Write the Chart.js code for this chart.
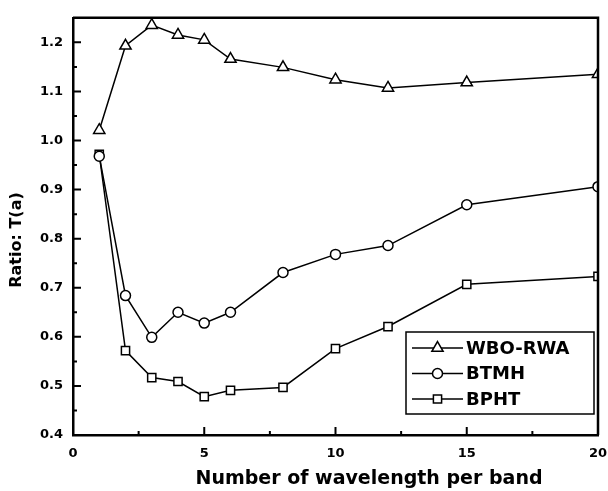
<!DOCTYPE html>
<html>
<head>
<meta charset="utf-8">
<script src="https://cdn.jsdelivr.net/npm/chart.js@4.4.1/dist/chart.umd.min.js"></script>
<style>
  html, body { margin: 0; padding: 0; background: #fff; }
  #wrap { width: 608px; height: 491px; }
</style>
</head>
<body>
<div id="wrap"><canvas id="ratioChart" width="608" height="491"></canvas></div>
<script>
// wavelengths per band and ratio T(a) for each method
const wavelengths = [1, 2, 3, 4, 5, 6, 8, 10, 12, 15, 20];
const wboRwa = [1.021, 1.193, 1.235, 1.215, 1.205, 1.166, 1.149, 1.124, 1.107, 1.118, 1.135];
const btmh   = [0.968, 0.684, 0.599, 0.650, 0.628, 0.650, 0.731, 0.768, 0.786, 0.869, 0.906];
const bpht   = [0.972, 0.572, 0.517, 0.509, 0.478, 0.491, 0.497, 0.576, 0.621, 0.707, 0.723];

const seriesLabels = ["WBO-RWA", "BTMH", "BPHT"];
const xTickValues = [0, 5, 10, 15, 20];
const xMinorValues = [2.5, 7.5, 12.5, 17.5];
const yTickValues = [0.4, 0.5, 0.6, 0.7, 0.8, 0.9, 1.0, 1.1, 1.2];
const yMinorValues = [0.45, 0.55, 0.65, 0.75, 0.85, 0.95, 1.05, 1.15];

const xTitle = "Number of wavelength per band";
const yTitle = "Ratio: T(a)";

const FONT = "'DejaVu Sans', sans-serif";

const toPoints = (ys) => wavelengths.map((x, i) => ({ x, y: ys[i] }));

function series(label, ys, style, radius) {
    return {
        label,
        data: toPoints(ys),
        borderColor: "#000",
        borderWidth: 1.5,
        backgroundColor: "#fff",
        pointStyle: style,
        pointRadius: radius,
        pointBorderWidth: 1.5,
        pointBorderColor: "#000",
        pointBackgroundColor: "#fff",
        tension: 0,
        fill: false,
    };
}

// inward ticks, frame, axis titles and the boxed legend
const framePlugin = {
    id: "frame",
    afterDatasetsDraw(chart) {
        const { ctx, chartArea: a, scales } = chart;
        const xs = scales.x, ys = scales.y;
        ctx.save();
        ctx.strokeStyle = "#000";

        // top and right edges of the frame
        ctx.lineWidth = 2.5;
        ctx.beginPath();
        ctx.moveTo(a.left, a.top);
        ctx.lineTo(a.right, a.top);
        ctx.lineTo(a.right, a.bottom);
        ctx.stroke();

        ctx.lineWidth = 2;
        ctx.beginPath();
        xTickValues.forEach(v => {
            const px = xs.getPixelForValue(v);
            ctx.moveTo(px, a.bottom); ctx.lineTo(px, a.bottom - 8);
        });
        xMinorValues.forEach(v => {
            const px = xs.getPixelForValue(v);
            ctx.moveTo(px, a.bottom); ctx.lineTo(px, a.bottom - 4);
        });
        yTickValues.forEach(v => {
            const py = ys.getPixelForValue(v);
            ctx.moveTo(a.left, py); ctx.lineTo(a.left + 8, py);
        });
        yMinorValues.forEach(v => {
            const py = ys.getPixelForValue(v);
            ctx.moveTo(a.left, py); ctx.lineTo(a.left + 4, py);
        });
        ctx.stroke();

        // axis titles
        ctx.fillStyle = "#000";
        ctx.font = "bold 19px " + FONT;
        ctx.textAlign = "center";
        ctx.textBaseline = "middle";
        ctx.fillText(xTitle, 369, 479);

        ctx.save();
        ctx.translate(17, 240);
        ctx.rotate(-Math.PI / 2);
        ctx.font = "bold 16px " + FONT;
        ctx.fillText(yTitle, 0, 0);
        ctx.restore();

        // legend box
        const bx = a.right - 192, by = a.bottom - 103, bw = 188, bh = 82;
        ctx.lineWidth = 1.5;
        ctx.strokeRect(bx, by, bw, bh);
        ctx.font = "bold 18px " + FONT;
        ctx.textAlign = "left";
        chart.data.datasets.forEach((ds, i) => {
            const cy = by + 16 + i * 25.5;
            const x0 = bx + 6, x1 = bx + 57, cx = (x0 + x1) / 2;
            ctx.lineWidth = 1.5;
            ctx.strokeStyle = "#000";
            ctx.beginPath();
            ctx.moveTo(x0, cy); ctx.lineTo(x1, cy);
            ctx.stroke();
            ctx.fillStyle = "#fff";
            Chart.helpers.drawPoint(ctx, {
                pointStyle: ds.pointStyle,
                radius: ds.pointRadius,
                borderWidth: 1.5,
                rotation: 0
            }, cx, cy);
            ctx.fillStyle = "#000";
            ctx.fillText(ds.label, x1 + 3, cy + 1);
        });
        ctx.restore();
    }
};

new Chart(document.getElementById("ratioChart"), {
    type: "line",
    data: {
        datasets: [
            series(seriesLabels[0], wboRwa, "triangle", 6.5),
            series(seriesLabels[1], btmh, "circle", 5),
            series(seriesLabels[2], bpht, "rect", 5.8),
        ],
    },
    options: {
        responsive: false,
        animation: false,
        devicePixelRatio: 1,
        layout: { padding: { top: 15, right: 0, left: 0, bottom: 0 } },
        plugins: {
            legend: { display: false },
            tooltip: { enabled: false },
        },
        scales: {
            x: {
                type: "linear",
                min: 0,
                max: 20,
                afterFit: (s) => { s.height = 56; s.paddingRight = 10; },
                afterBuildTicks: (s) => { s.ticks = xTickValues.map(v => ({ value: v })); },
                grid: { display: false, drawTicks: false },
                border: { display: true, color: "#000", width: 2.5 },
                ticks: {
                    color: "#000",
                    padding: 11,
                    maxRotation: 0,
                    font: { family: FONT, size: 13, weight: "bold" },
                    callback: (v) => String(v),
                },
            },
            y: {
                min: 0.4,
                max: 1.25,
                afterFit: (s) => { s.width = 73; },
                afterBuildTicks: (s) => { s.ticks = yTickValues.map(v => ({ value: v })); },
                grid: { display: false, drawTicks: false },
                border: { display: true, color: "#000", width: 2.5 },
                ticks: {
                    color: "#000",
                    padding: 10,
                    font: { family: FONT, size: 13, weight: "bold" },
                    callback: (v) => Number(v).toFixed(1),
                },
            },
        },
    },
    plugins: [framePlugin],
});
</script>
</body>
</html>
